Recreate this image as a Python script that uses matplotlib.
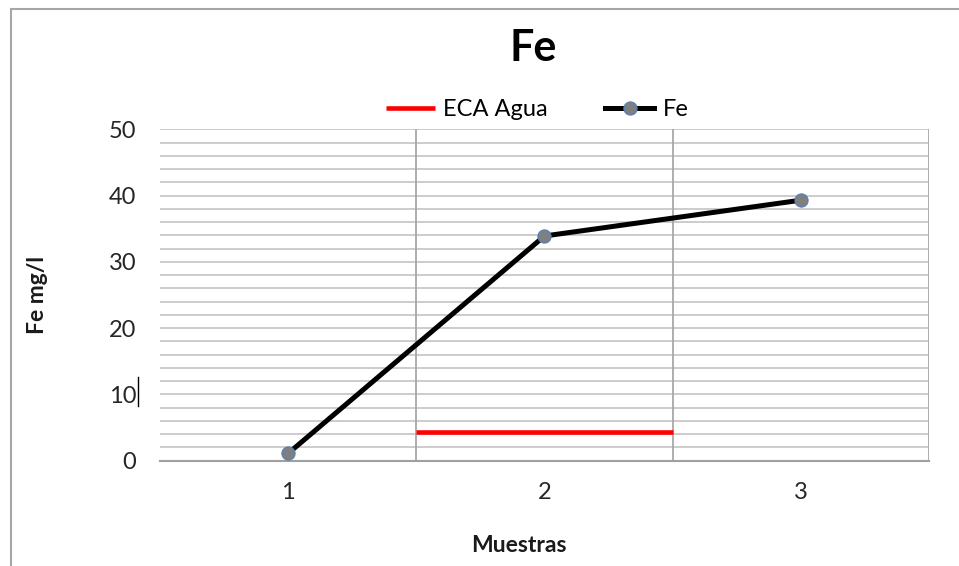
import matplotlib
matplotlib.use('Agg')
import matplotlib.pyplot as plt
from matplotlib.patches import Rectangle
from matplotlib.lines import Line2D

plt.rcParams['font.family'] = ['Lato', 'DejaVu Sans']

# data
muestras = [1, 2, 3]
fe_vals = [1.1, 33.9, 39.3]
eca_x = [1.5, 2.5]
eca_y = [4.3, 4.3]
y_ticks = [0, 10, 20, 30, 40, 50]

fig = plt.figure(figsize=(9.59, 5.66), dpi=100)
ax = fig.add_axes([0.1668, 0.186, 0.8019, 0.5856])

# chart border (only top and left visible in the crop)
fig.patches.append(Rectangle((0.0115, -0.1), 1.2, 1.084, transform=fig.transFigure,
                             fill=False, edgecolor='#a6a6a6', linewidth=1.5))

ax.set_xlim(0.5, 3.5)
ax.set_ylim(0, 50)

# gridlines every 2 units, vertical lines at category borders
for v in range(2, 51, 2):
    ax.axhline(v, color='#c8c8c8', linewidth=1.3, zorder=0)
for b in [1.5, 2.5, 3.5]:
    ax.axvline(b, color='#a8a8a8', linewidth=1.3, zorder=0)

ax.plot(eca_x, eca_y, color='#ff0000', linewidth=3.3, label='ECA Agua', zorder=2,
        solid_capstyle='butt')
ax.plot(muestras, fe_vals, color='black', linewidth=3.6, marker='o', markersize=9.5,
        markerfacecolor='#7f7f7f', markeredgecolor='#4f81bd', markeredgewidth=0.8,
        label='Fe', zorder=3)

for s in ['top', 'left', 'right']:
    ax.spines[s].set_visible(False)
ax.spines['bottom'].set_color('#a0a0a0')
ax.spines['bottom'].set_linewidth(1.5)

ax.set_xticks(muestras)
ax.set_yticks(y_ticks)
ax.tick_params(axis='both', length=0, labelsize=17, colors='#262626')
ax.tick_params(axis='y', pad=17)
ax.tick_params(axis='x', pad=15)

# text cursor left after the "10" label in the screenshot
fig.add_artist(Line2D([137.5 / 959, 137.5 / 959], [1 - 377 / 566, 1 - 406 / 566],
                      color='black', linewidth=1))

fig.text(519 / 959, 1 - 545 / 566, 'Muestras', fontsize=16.5, fontweight='bold',
         ha='center', va='center', color='#1a1a1a')
fig.text(38 / 959, 1 - 295 / 566, 'Fe mg/l', fontsize=16.5, fontweight='bold',
         ha='center', va='center', rotation=90, color='#1a1a1a')

fig.text(533 / 959, 1 - 48 / 566, 'Fe', fontsize=31, fontweight='bold',
         ha='center', va='center')

leg = ax.legend(loc='center', bbox_to_anchor=(537 / 959, 1 - 110 / 566),
                bbox_transform=fig.transFigure, ncol=2, frameon=False,
                fontsize=17, handlelength=2.1, columnspacing=2.4, handletextpad=0.35,
                borderpad=0)

fig.savefig('out.png', dpi=100)
